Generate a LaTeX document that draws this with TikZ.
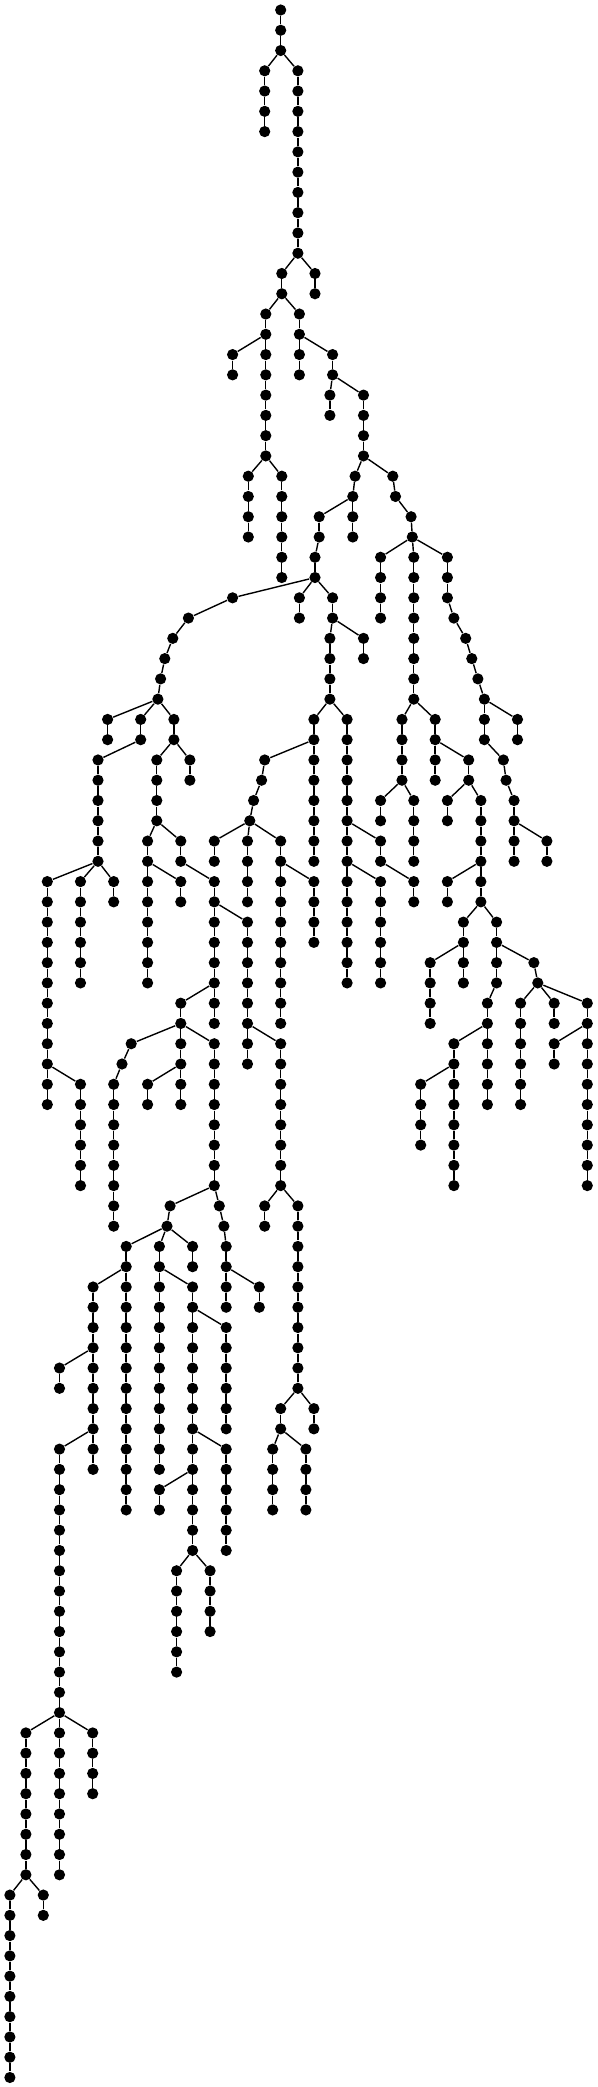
\documentclass[tikz,border=0pt]{standalone}
\usetikzlibrary{shapes.geometric}
\tikzstyle{dot} = [
    circle,
    minimum size=5.6pt, inner sep=0pt,
    fill=black
]
\tikzstyle{link} = [line width=0.7pt, black]

% vertical run of dots: name, x, first level, last level
\newcommand\vchain[4]{%
  \foreach \l in {#3,...,#4}{
    \node (#1-\l) [dot] at (#2,\l) {};
    \ifnum\l>#3 \pgfmathtruncatemacro\lprev{\l-1}\draw [link] (#1-\lprev) -- (#1-\l);\fi
  }}
% run of dots with its own x per level: name, list level/x
\newcommand\pchain[2]{%
  \foreach \l/\x [count=\k] in {#2}{
    \node (#1-\l) [dot] at (\x,\l) {};
    \ifnum\k>1 \draw [link] (#1-\lprev) -- (#1-\l);\fi
    \xdef\lprev{\l}
  }}

\begin{document}
\begin{tikzpicture}[x=0.5pt, y=-10.135pt]
    \useasboundingbox (0,-0.4933) rectangle (598,102.47);

    % Draw trunk
    \vchain{a}{280.7}{0}{2}
    \vchain{b}{264.7}{3}{6}
    \vchain{c}{297.9}{3}{12}
    \vchain{d}{281.8}{13}{14}
    \vchain{e}{315.0}{13}{14}
    \vchain{f}{265.8}{15}{16}
    \vchain{g}{299.4}{15}{16}
    \vchain{h}{232.6}{17}{18}
    \vchain{i}{265.8}{17}{22}
    \vchain{j}{248.3}{23}{26}
    \vchain{k}{281.8}{23}{28}
    \vchain{l}{299.4}{17}{18}
    \vchain{m}{332.6}{17}{18}
    \vchain{n}{329.9}{19}{20}
    \vchain{o}{363.5}{19}{22}
    \pchain{p}{23/355.1,24/352.8}
    \pchain{q}{23/392.8,24/395.5,25/411.1,26/412.3}
    \pchain{r}{25/319.2,26/319.2,27/315.0,28/315.0}
    \vchain{s}{352.8}{25}{26}
    \pchain{t}{29/232.6,30/188.4,31/172.8,32/164.8,33/160.6,34/157.9}
    \vchain{u}{299.4}{29}{30}
    \vchain{v}{332.6}{29}{30}
    \vchain{w}{329.9}{31}{34}
    \vchain{x}{363.5}{31}{32}

    \draw [link] (a-2) -- (b-3);
    \draw [link] (a-2) -- (c-3);
    \draw [link] (c-12) -- (d-13);
    \draw [link] (c-12) -- (e-13);
    \draw [link] (d-14) -- (f-15);
    \draw [link] (d-14) -- (g-15);
    \draw [link] (f-16) -- (h-17);
    \draw [link] (f-16) -- (i-17);
    \draw [link] (i-22) -- (j-23);
    \draw [link] (i-22) -- (k-23);
    \draw [link] (g-16) -- (l-17);
    \draw [link] (g-16) -- (m-17);
    \draw [link] (m-18) -- (n-19);
    \draw [link] (m-18) -- (o-19);
    \draw [link] (o-22) -- (p-23);
    \draw [link] (o-22) -- (q-23);
    \draw [link] (p-24) -- (r-25);
    \draw [link] (p-24) -- (s-25);
    \draw [link] (r-28) -- (t-29);
    \draw [link] (r-28) -- (u-29);
    \draw [link] (r-28) -- (v-29);
    \draw [link] (v-30) -- (w-31);
    \draw [link] (v-30) -- (x-31);

    % Draw left subtree
    \vchain{ta}{107.6}{35}{36}
    \pchain{tb}{35/140.7,36/140.7,37/98.0,38/98.0,39/98.0,40/98.0,41/98.0,42/98.0}
    \vchain{tc}{173.9}{35}{36}
    \vchain{tba}{47.3}{43}{54}
    \vchain{tbb}{80.5}{43}{48}
    \vchain{tbc}{113.7}{43}{44}
    \vchain{tbd}{80.5}{53}{58}
    \vchain{tca}{156.8}{37}{40}
    \vchain{tcb}{189.9}{37}{38}
    \vchain{tcc}{147.6}{41}{42}
    \pchain{tcd}{41/180.8,42/180.8,43/214.3,44/214.3,45/214.3,46/214.3,47/214.3,48/214.3,49/214.3,50/214.3}
    \vchain{tce}{147.6}{43}{48}
    \vchain{tcf}{180.8}{43}{44}
    \vchain{tcg}{247.5}{45}{52}
    \vchain{tch}{180.8}{49}{50}
    \vchain{tcj}{280.7}{51}{58}
    \vchain{tck}{264.7}{59}{60}
    \vchain{tcl}{297.9}{59}{68}
    \vchain{tcm}{280.7}{69}{70}
    \vchain{tcn}{313.9}{69}{70}
    \vchain{tco}{272.7}{71}{74}
    \vchain{tcp}{305.9}{71}{74}
    \pchain{tcq}{51/131.2,52/122.0,53/113.7,54/113.7,55/113.7,56/113.7,57/113.7,58/113.7,59/113.7,60/113.7}
    \vchain{tcr}{180.8}{51}{54}
    \vchain{tcs}{214.3}{51}{58}
    \vchain{tct}{147.6}{53}{54}
    \pchain{tcv}{59/170.1,60/167.0}
    \pchain{tcw}{59/219.3,60/223.9,61/226.2,62/226.2,63/226.2,64/226.2}
    \vchain{tcx}{259.3}{63}{64}
    \vchain{va}{126.2}{61}{74}
    \vchain{vb}{159.4}{61}{72}
    \vchain{vc}{192.6}{61}{62}
    \vchain{vaa}{93.1}{63}{72}
    \vchain{vab}{59.5}{67}{68}
    \vchain{vac}{59.5}{71}{92}
    \vchain{vad}{25.9}{85}{92}
    \vchain{vae}{92.7}{85}{88}
    \vchain{vaf}{9.9}{93}{102}
    \vchain{vag}{43.3}{93}{94}
    \vchain{vba}{192.6}{63}{76}
    \vchain{vbb}{226.2}{65}{70}
    \vchain{vbc}{226.2}{71}{76}
    \vchain{vbd}{159.4}{73}{74}
    \vchain{vbe}{176.6}{77}{82}
    \vchain{vbf}{210.1}{77}{80}

    \draw [link] (t-34) -- (ta-35);
    \draw [link] (t-34) -- (tb-35);
    \draw [link] (t-34) -- (tc-35);
    \draw [link] (tb-42) -- (tba-43);
    \draw [link] (tb-42) -- (tbb-43);
    \draw [link] (tb-42) -- (tbc-43);
    \draw [link] (tba-52) -- (tbd-53);
    \draw [link] (tc-36) -- (tca-37);
    \draw [link] (tc-36) -- (tcb-37);
    \draw [link] (tca-40) -- (tcc-41);
    \draw [link] (tca-40) -- (tcd-41);
    \draw [link] (tcc-42) -- (tce-43);
    \draw [link] (tcc-42) -- (tcf-43);
    \draw [link] (tcd-44) -- (tcg-45);
    \draw [link] (tcd-48) -- (tch-49);
    \draw [link] (tcg-50) -- (tcj-51);
    \draw [link] (tcj-58) -- (tck-59);
    \draw [link] (tcj-58) -- (tcl-59);
    \draw [link] (tcl-68) -- (tcm-69);
    \draw [link] (tcl-68) -- (tcn-69);
    \draw [link] (tcm-70) -- (tco-71);
    \draw [link] (tcm-70) -- (tcp-71);
    \draw [link] (tch-50) -- (tcq-51);
    \draw [link] (tch-50) -- (tcr-51);
    \draw [link] (tch-50) -- (tcs-51);
    \draw [link] (tcr-52) -- (tct-53);
    \draw [link] (tcs-58) -- (tcv-59);
    \draw [link] (tcs-58) -- (tcw-59);
    \draw [link] (tcw-62) -- (tcx-63);
    \draw [link] (tcv-60) -- (va-61);
    \draw [link] (tcv-60) -- (vb-61);
    \draw [link] (tcv-60) -- (vc-61);
    \draw [link] (va-62) -- (vaa-63);
    \draw [link] (vaa-66) -- (vab-67);
    \draw [link] (vaa-70) -- (vac-71);
    \draw [link] (vac-84) -- (vad-85);
    \draw [link] (vac-84) -- (vae-85);
    \draw [link] (vad-92) -- (vaf-93);
    \draw [link] (vad-92) -- (vag-93);
    \draw [link] (vb-62) -- (vba-63);
    \draw [link] (vba-64) -- (vbb-65);
    \draw [link] (vba-70) -- (vbc-71);
    \draw [link] (vba-72) -- (vbd-73);
    \draw [link] (vba-76) -- (vbe-77);
    \draw [link] (vba-76) -- (vbf-77);

    % Draw middle subtree
    \vchain{wa}{313.9}{35}{42}
    \vchain{wb}{347.1}{35}{48}
    \pchain{waa}{37/264.7,38/261.6,39/253.6,40/249.8}
    \vchain{wab}{214.3}{41}{42}
    \vchain{wac}{247.5}{41}{44}
    \vchain{wad}{280.7}{41}{50}
    \vchain{wae}{313.9}{43}{46}
    \pchain{wba}{41/380.6,42/380.6,43/413.8,44/413.8}
    \vchain{wbb}{380.6}{43}{48}

    \draw [link] (w-34) -- (wa-35);
    \draw [link] (w-34) -- (wb-35);
    \draw [link] (wa-36) -- (waa-37);
    \draw [link] (waa-40) -- (wab-41);
    \draw [link] (waa-40) -- (wac-41);
    \draw [link] (waa-40) -- (wad-41);
    \draw [link] (wad-42) -- (wae-43);
    \draw [link] (wb-40) -- (wba-41);
    \draw [link] (wb-42) -- (wbb-43);

    % Draw right subtree
    \vchain{qa}{380.6}{27}{30}
    \vchain{qb}{413.8}{27}{34}
    \pchain{qc}{27/447.4,28/447.4,29/447.4,30/453.9,31/465.7,32/471.8,33/477.9,34/484.4}
    \vchain{qba}{402.0}{35}{38}
    \vchain{qbb}{435.2}{35}{38}
    \vchain{qbc}{380.6}{39}{40}
    \vchain{qbd}{413.8}{39}{42}
    \vchain{qbe}{468.7}{37}{38}
    \vchain{qbf}{447.4}{39}{40}
    \vchain{qbg}{480.9}{39}{44}
    \vchain{qbh}{447.4}{43}{44}
    \vchain{qbi}{463.4}{45}{48}
    \pchain{qbj}{45/496.6,46/496.6,47/496.6,48/496.6,49/487.4,50/487.4,51/487.4,52/487.4,53/487.4,54/487.4}
    \vchain{qbk}{430.2}{47}{50}
    \pchain{qbl}{47/533.9,48/537.8}
    \vchain{qbm}{453.9}{51}{58}
    \vchain{qbn}{420.7}{53}{56}
    \vchain{qbo}{520.6}{49}{54}
    \vchain{qbp}{554.2}{49}{50}
    \vchain{qbq}{587.3}{49}{58}
    \vchain{qbr}{554.2}{51}{52}
    \pchain{qca}{35/484.4,36/484.4,37/503.4,38/506.1,39/514.1,40/514.1,41/514.1,42/514.1}
    \vchain{qcb}{517.5}{35}{36}
    \vchain{qcc}{546.9}{41}{42}

    \draw [link] (q-26) -- (qa-27);
    \draw [link] (q-26) -- (qb-27);
    \draw [link] (q-26) -- (qc-27);
    \draw [link] (qb-34) -- (qba-35);
    \draw [link] (qb-34) -- (qbb-35);
    \draw [link] (qba-38) -- (qbc-39);
    \draw [link] (qba-38) -- (qbd-39);
    \draw [link] (qbb-36) -- (qbe-37);
    \draw [link] (qbe-38) -- (qbf-39);
    \draw [link] (qbe-38) -- (qbg-39);
    \draw [link] (qbg-42) -- (qbh-43);
    \draw [link] (qbg-44) -- (qbi-45);
    \draw [link] (qbg-44) -- (qbj-45);
    \draw [link] (qbi-46) -- (qbk-47);
    \draw [link] (qbj-46) -- (qbl-47);
    \draw [link] (qbj-50) -- (qbm-51);
    \draw [link] (qbm-52) -- (qbn-53);
    \draw [link] (qbl-48) -- (qbo-49);
    \draw [link] (qbl-48) -- (qbp-49);
    \draw [link] (qbl-48) -- (qbq-49);
    \draw [link] (qbq-50) -- (qbr-51);
    \draw [link] (qc-34) -- (qca-35);
    \draw [link] (qc-34) -- (qcb-35);
    \draw [link] (qca-40) -- (qcc-41);
\end{tikzpicture}
\end{document}
